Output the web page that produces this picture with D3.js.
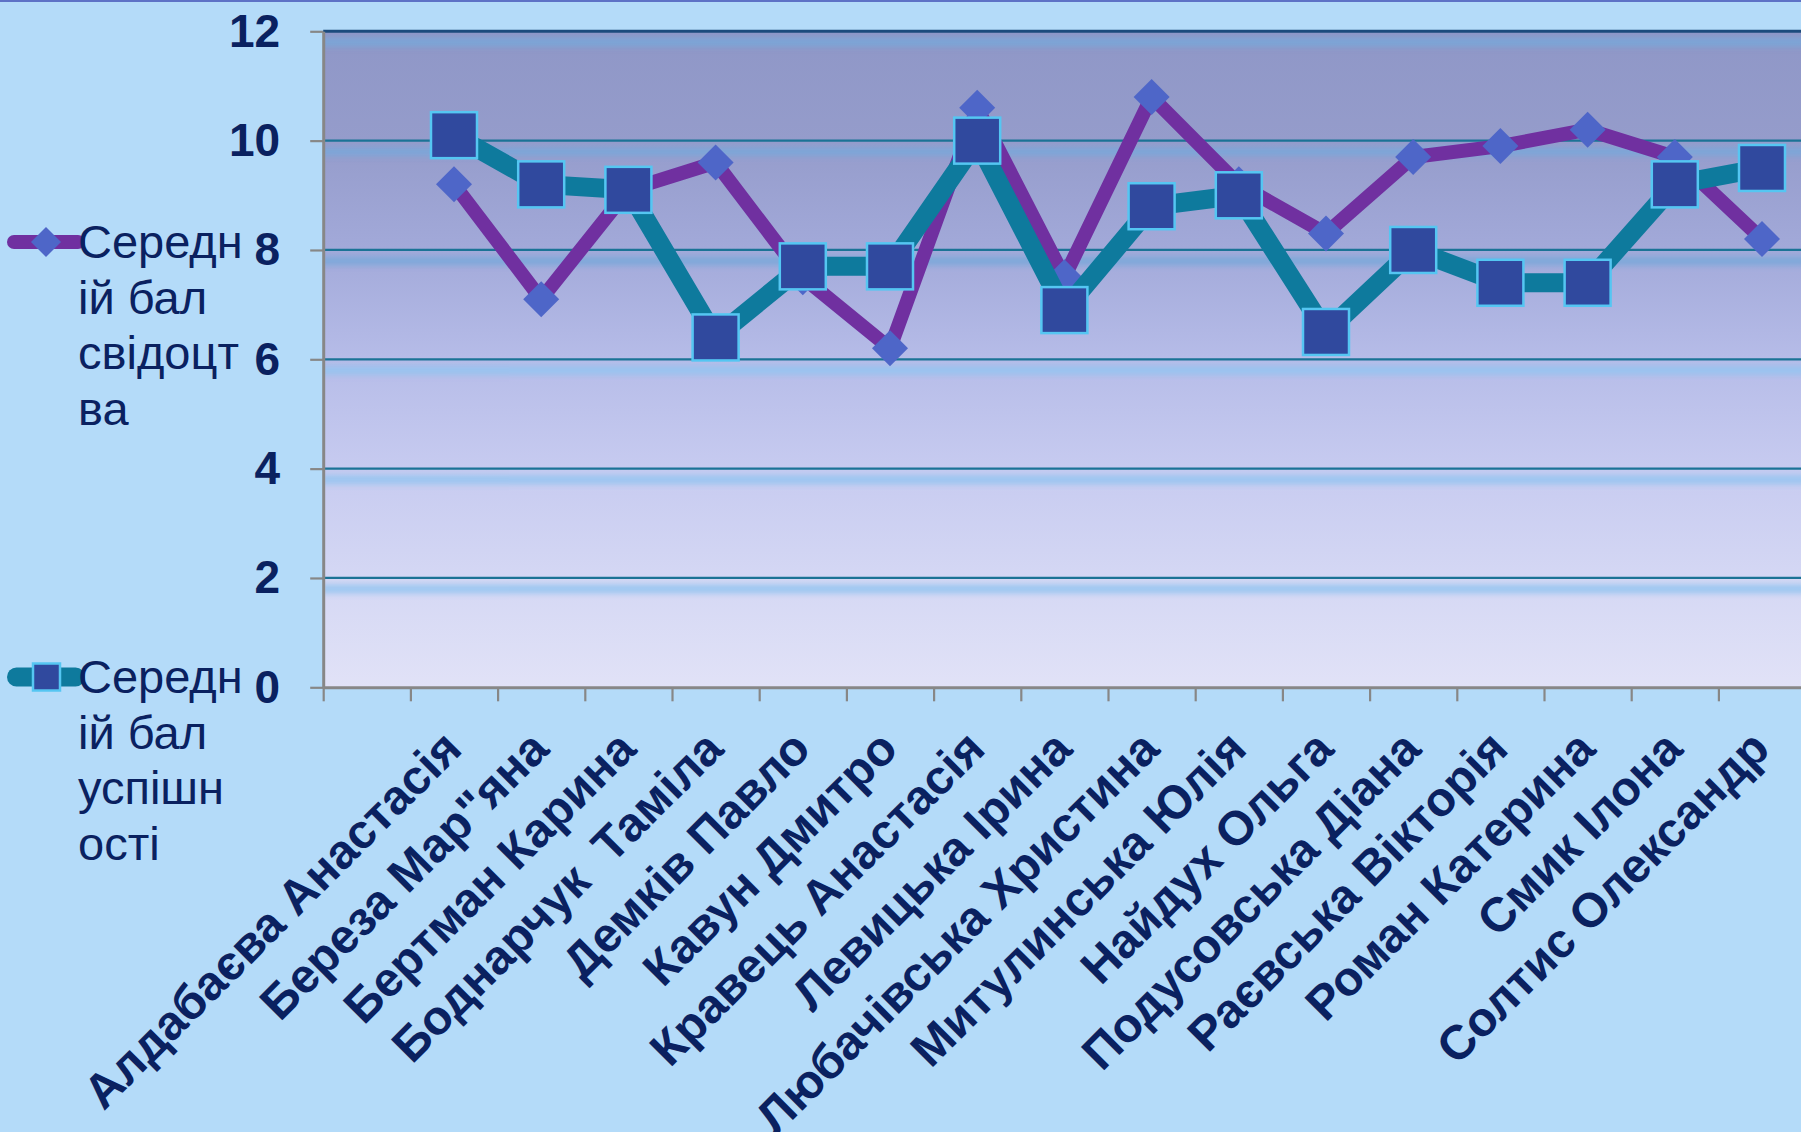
<!DOCTYPE html>
<html>
<head>
<meta charset="utf-8">
<script src="https://cdn.jsdelivr.net/npm/d3@7"></script>
<style>
  html, body { margin: 0; padding: 0; background: #B4DBF9; overflow: hidden; }
  svg { display: block; }
  text { font-family: "Liberation Sans", Arial, sans-serif; }
</style>
</head>
<body>
<svg id="chart" width="1801" height="1132"></svg>
<script>
// ---- data ----
const categories = [
  "Алдабаєва Анастасія", "Береза Мар\"яна", "Бертман Карина", "Боднарчук  Таміла",
  "Демків Павло", "Кавун Дмитро", "Кравець Анастасія", "Левицька Ірина",
  "Любачівська Христина", "Митулинська Юлія", "Найдух Ольга", "Подусовська Діана",
  "Раєвська Вікторія", "Роман Катерина", "Смик Ілона", "Солтис Олександр"
];
const seriesNames = ["Середній бал свідоцтва", "Середній бал успішності"];
const legendLines = [["Середн", "ій бал", "свідоцт", "ва"], ["Середн", "ій бал", "успішн", "ості"]];
const certificateAvg = [9.2, 7.1, 9.1, 9.6, 7.5, 6.2, 10.6, 7.5, 10.8, 9.2, 8.3, 9.7, 9.9, 10.2, 9.7, 8.2];
const progressAvg    = [10.1, 9.2, 9.1, 6.4, 7.7, 7.7, 10.0, 6.9, 8.8, 9.0, 6.5, 8.0, 7.4, 7.4, 9.2, 9.5];
const yTicks = [0, 2, 4, 6, 8, 10, 12];

// ---- layout ----
const W = 1801, H = 1132;
const plot = { left: 323.2, right: 1805.6, top: 31.3, bottom: 687.3 };
const slots = categories.length + 1; // first slot of the category axis is empty

const svg = d3.select("#chart");
const x = d3.scaleLinear().domain([0, slots]).range([plot.left, plot.right]);
const y = d3.scaleLinear().domain([0, 12]).range([plot.bottom, plot.top]);
const cx = i => x(i + 1.5);

const textColor = "#0A2160";
const purple = "#7030A0", teal = "#0E7A9D";

// defs
const defs = svg.append("defs");
const grad = defs.append("linearGradient").attr("id", "plotGrad")
  .attr("x1", 0).attr("y1", 0).attr("x2", 0).attr("y2", 1);
[["0%", "#8F97C7"], ["17%", "#959CCB"], ["33%", "#A2A9D9"], ["50%", "#B6BCE8"],
 ["67%", "#C7CBF0"], ["83%", "#D4D7F4"], ["100%", "#E1E2F7"]].forEach(s =>
  grad.append("stop").attr("offset", s[0]).attr("stop-color", s[1]));
const blur = defs.append("filter").attr("id", "bandBlur")
  .attr("x", "-1%").attr("y", "-150%").attr("width", "102%").attr("height", "400%");
blur.append("feGaussianBlur").attr("stdDeviation", "0 3");
defs.append("clipPath").attr("id", "plotClip").append("rect")
  .attr("x", plot.left).attr("y", plot.top - 2).attr("width", plot.right - plot.left).attr("height", plot.bottom - plot.top + 2);
defs.append("clipPath").attr("id", "bandClip").append("rect")
  .attr("x", plot.left + 2).attr("y", plot.top + 2).attr("width", plot.right - plot.left).attr("height", plot.bottom - plot.top - 2);

// page top border
svg.append("rect").attr("x", 0).attr("y", 0).attr("width", W).attr("height", 2).attr("fill", "#5E72C6");

// plot background
svg.append("rect").attr("x", plot.left).attr("y", plot.top)
  .attr("width", plot.right - plot.left).attr("height", plot.bottom - plot.top)
  .attr("fill", "url(#plotGrad)");

// light bands under gridlines
const bands = svg.append("g").attr("clip-path", "url(#bandClip)");
bands.selectAll("rect").data(yTicks.filter(t => t > 0)).enter().append("rect")
  .attr("x", plot.left - 20).attr("width", plot.right - plot.left + 60)
  .attr("y", d => y(d) + 7).attr("height", 8)
  .attr("fill", d => d >= 8 ? "#78A8DA" : "#92C4F0").attr("opacity", 0.95)
  .attr("filter", "url(#bandBlur)");

// gridlines
svg.append("g").selectAll("line").data(yTicks.filter(t => t > 0)).enter().append("line")
  .attr("x1", plot.left).attr("x2", plot.right)
  .attr("y1", d => y(d)).attr("y2", d => y(d))
  .attr("stroke", d => d === 12 ? "#1C4B7D" : "#1B7396")
  .attr("stroke-width", d => d === 12 ? 3 : 2.2);

// y axis
const yAxis = svg.append("g").attr("transform", `translate(${plot.left},0)`)
  .call(d3.axisLeft(y).tickValues(yTicks).tickSize(13).tickPadding(30).tickSizeOuter(0));
yAxis.select(".domain").attr("stroke", "#878787").attr("stroke-width", 3);
yAxis.selectAll(".tick line").attr("stroke", "#878787").attr("stroke-width", 2.2);
yAxis.selectAll(".tick text").attr("fill", textColor)
  .style("font-size", "46px").style("font-weight", "bold")
  .style("font-family", "'Liberation Sans', Arial, sans-serif");

// x axis
const xAxis = svg.append("g").attr("transform", `translate(0,${plot.bottom})`)
  .call(d3.axisBottom(x).tickValues(d3.range(0, slots + 1)).tickFormat("").tickSize(14).tickSizeOuter(0));
xAxis.select(".domain").attr("stroke", "#878787").attr("stroke-width", 3);
xAxis.selectAll(".tick line").attr("stroke", "#878787").attr("stroke-width", 2.2);

// x labels
svg.append("g").selectAll("text").data(categories).enter().append("text")
  .attr("transform", (d, i) => `translate(${cx(i) + 10},${plot.bottom + 64}) rotate(-45)`)
  .attr("text-anchor", "end")
  .style("white-space", "pre")
  .style("font-size", "48px").style("font-weight", "bold")
  .attr("fill", textColor)
  .text(d => d);

// series
const lineGen = d3.line().x((d, i) => cx(i)).y(d => y(d));
const series = [
  { name: seriesNames[0], values: certificateAvg, color: purple, width: 14, marker: "diamond" },
  { name: seriesNames[1], values: progressAvg, color: teal, width: 19, marker: "square" }
];
const markerDiamondHalf = 18, markerSquare = 46;

function drawDiamond(g, px, py, half) {
  g.append("path").attr("d", `M${px},${py - half}L${px + half},${py}L${px},${py + half}L${px - half},${py}Z`)
    .attr("fill", "#4E66C8");
}
function drawSquare(g, px, py, side) {
  g.append("rect").attr("x", px - side / 2).attr("y", py - side / 2)
    .attr("width", side).attr("height", side)
    .attr("fill", "#30499E").attr("stroke", "#55C6F2").attr("stroke-width", 2.5);
}

series.forEach(s => {
  const g = svg.append("g").attr("clip-path", "url(#plotClip)");
  g.append("path").datum(s.values).attr("d", lineGen)
    .attr("fill", "none").attr("stroke", s.color).attr("stroke-width", s.width)
    .attr("stroke-linejoin", "round");
  s.values.forEach((v, i) => {
    if (s.marker === "diamond") drawDiamond(g, cx(i), y(v), markerDiamondHalf);
    else drawSquare(g, cx(i), y(v), markerSquare);
  });
});

// legend
const legendY = [242, 677];
series.forEach((s, k) => {
  const g = svg.append("g");
  const ly = legendY[k];
  g.append("line").attr("x1", 14 + s.width / 2 - 7).attr("x2", 78 - s.width / 2 + 7)
    .attr("y1", ly).attr("y2", ly)
    .attr("stroke", s.color).attr("stroke-width", s.width).attr("stroke-linecap", "round");
  if (s.marker === "diamond") drawDiamond(g, 46, ly, 15);
  else drawSquare(g, 46.5, ly, 27);
  const t = g.append("text").attr("x", 78).attr("y", ly).attr("fill", textColor)
    .style("font-size", "47px");
  legendLines[k].forEach((ln, j) => {
    t.append("tspan").attr("x", 78).attr("y", ly + 16 + j * 55.5).text(ln);
  });
});
</script>
</body>
</html>
